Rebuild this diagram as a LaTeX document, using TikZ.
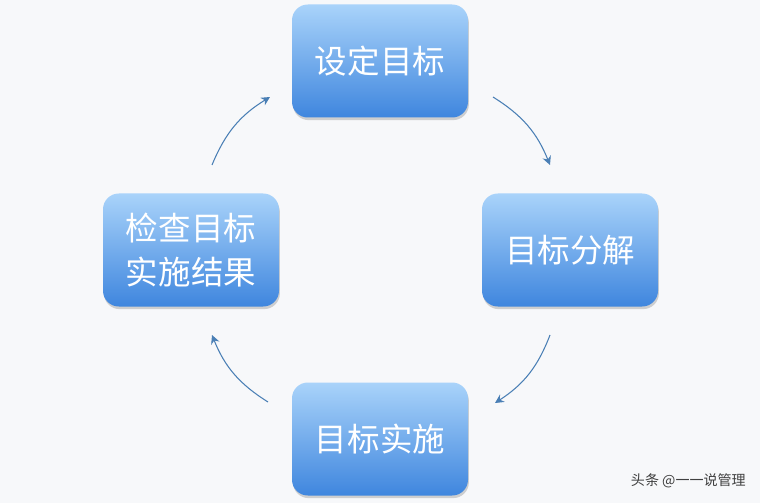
\documentclass[tikz,border=0pt]{standalone}
\usepackage{fontspec}
\setmainfont{Noto Sans CJK SC}
\usetikzlibrary{shadows,arrows.meta}
\definecolor{bgc}{HTML}{F7F8FA}
\definecolor{topc}{HTML}{A9D3FA}
\definecolor{botc}{HTML}{3F86DE}
\definecolor{arc}{HTML}{4A7FB5}
\tikzset{
  box/.style={rounded corners=9pt, minimum width=176*0.02cm, minimum height=113*0.02cm,
    top color=topc, bottom color=botc, draw=none, text=white, align=center,
    font=\fontsize{18.5}{25}\selectfont,
    drop shadow={shadow xshift=0.5pt, shadow yshift=-1.5pt, opacity=0.35}},
  cyc/.style={draw=arc, line width=0.6pt, -{Stealth[length=5pt,width=5pt]}}
}
\begin{document}
\begin{tikzpicture}[x=0.02cm,y=-0.02cm]
\fill[bgc] (0,0) rectangle (760,503);
\useasboundingbox (0,0) rectangle (760,503);
\node[box] (t) at (380,61) {设定目标};
\node[box] (r) at (570,250) {目标分解};
\node[box] (b) at (380,439) {目标实施};
\node[box] (l) at (191,250) {检查目标\\实施结果};
\coordinate (a1) at (493,97); \coordinate (a2) at (550,165);
\coordinate (b1) at (550,335); \coordinate (b2) at (495,403);
\coordinate (c1) at (268,402); \coordinate (c2) at (212,335);
\coordinate (d1) at (212,165); \coordinate (d2) at (270,97);
\draw[cyc] (a1) to[bend left=18] (a2);
\draw[cyc] (b1) to[bend left=18] (b2);
\draw[cyc] (c1) to[bend left=18] (c2);
\draw[cyc] (d1) to[bend left=18] (d2);
\node[text=black!75, font=\fontsize{8}{10}\selectfont, anchor=east] (w) at (752,481) {头条 @一一说管理};
\end{tikzpicture}
\end{document}
